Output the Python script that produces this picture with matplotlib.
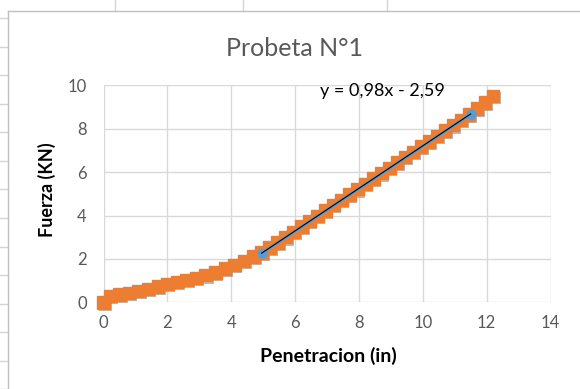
import matplotlib
matplotlib.use("Agg")
import matplotlib.pyplot as plt
import matplotlib.patheffects as pe
import numpy as np

plt.rcParams['font.family'] = ['Lato', 'DejaVu Sans']

# ensayo de penetracion, probeta 1
penetracion = [0, 0.2, 0.5, 0.8, 1.1, 1.4, 1.7, 2.0, 2.3, 2.6, 2.9, 3.2, 3.5, 3.8,
               4.1, 4.4, 4.7, 4.95, 5.2, 5.45, 5.7, 5.95, 6.2, 6.45, 6.7, 6.95,
               7.2, 7.45, 7.7, 7.95, 8.2, 8.45, 8.7, 8.95, 9.2, 9.45, 9.7, 9.95,
               10.2, 10.45, 10.7, 10.95, 11.2, 11.45, 11.7, 11.95, 12.2]
fuerza = [0, 0.3, 0.36, 0.44, 0.52, 0.62, 0.72, 0.84, 0.93, 1.03, 1.13, 1.25, 1.38,
          1.55, 1.72, 1.9, 2.1, 2.3, 2.52, 2.76, 3.0, 3.25, 3.5, 3.74, 3.98, 4.23,
          4.48, 4.72, 4.97, 5.21, 5.46, 5.71, 5.95, 6.2, 6.44, 6.69, 6.93, 7.18,
          7.42, 7.67, 7.91, 8.16, 8.4, 8.66, 8.92, 9.2, 9.5]

# tramo lineal usado para el ajuste
tramo_x = [4.95, 11.5]
pendiente = 0.98
ordenada = -2.59

W, H = 580, 389
fig = plt.figure(figsize=(W / 100, H / 100), dpi=100)

# hoja de calculo de fondo + borde del grafico
bg = fig.add_axes([0, 0, 1, 1], zorder=-5)
bg.set_xlim(0, W)
bg.set_ylim(H, 0)
bg.axis('off')
for xc in [115, 243, 387]:
    bg.plot([xc, xc], [0, 11], color='#D4D4D4', lw=1)
for k in range(14):
    yc = 18.3 + 28.53 * k
    bg.plot([0, 8], [yc, yc], color='#D4D4D4', lw=1)
bg.plot([8, 8], [11, H], color='#BFBFBF', lw=1)
bg.plot([8, W], [11, 11], color='#BFBFBF', lw=1)

ax = fig.add_axes([103.5 / W, 1 - 302.3 / H, 447 / W, 217 / H])
ax.set_xlim(0, 14)
ax.set_ylim(0, 10)
ax.set_xticks(np.arange(0, 15, 2))
ax.set_yticks(np.arange(0, 11, 2))
ax.grid(True, color='#D9D9D9', lw=1)
ax.set_axisbelow(True)
for s in ax.spines.values():
    s.set_visible(False)
ax.tick_params(length=0, labelsize=12, labelcolor='#595959')
ax.tick_params(axis='y', pad=12)
ax.tick_params(axis='x', pad=9)

ax.plot(penetracion, fuerza, linestyle='none', marker='s', markersize=9,
        color='#ED7D31', clip_on=False, zorder=3,
        path_effects=[pe.SimplePatchShadow(offset=(1.3, -1.5), shadow_rgbFace='#8C8C8C', alpha=0.6),
                      pe.Normal()])

tramo_y = [pendiente * v + ordenada for v in tramo_x]
ax.plot(tramo_x, tramo_y, color='#5B9BD5', lw=2.2, marker='o', markersize=6.5, zorder=4)
xt = np.array(tramo_x)
ax.plot(xt, pendiente * xt + ordenada, color='black', lw=0.8, zorder=5)

ax.text(8.75, 9.75, 'y = 0,98x - 2,59', fontsize=13, color='black', ha='center', va='center')

fig.text(295 / W, 1 - 48 / H, 'Probeta N°1', fontsize=18, color='#595959', ha='center', va='center')
fig.text(328 / W, 1 - 356 / H, 'Penetracion (in)', fontsize=14, fontweight='bold',
         color='black', ha='center', va='center')
fig.text(46.7 / W, 1 - 190 / H, 'Fuerza (KN)', fontsize=13, fontweight='bold',
         color='black', ha='center', va='center', rotation=90)

fig.savefig('out.png', dpi=100)
